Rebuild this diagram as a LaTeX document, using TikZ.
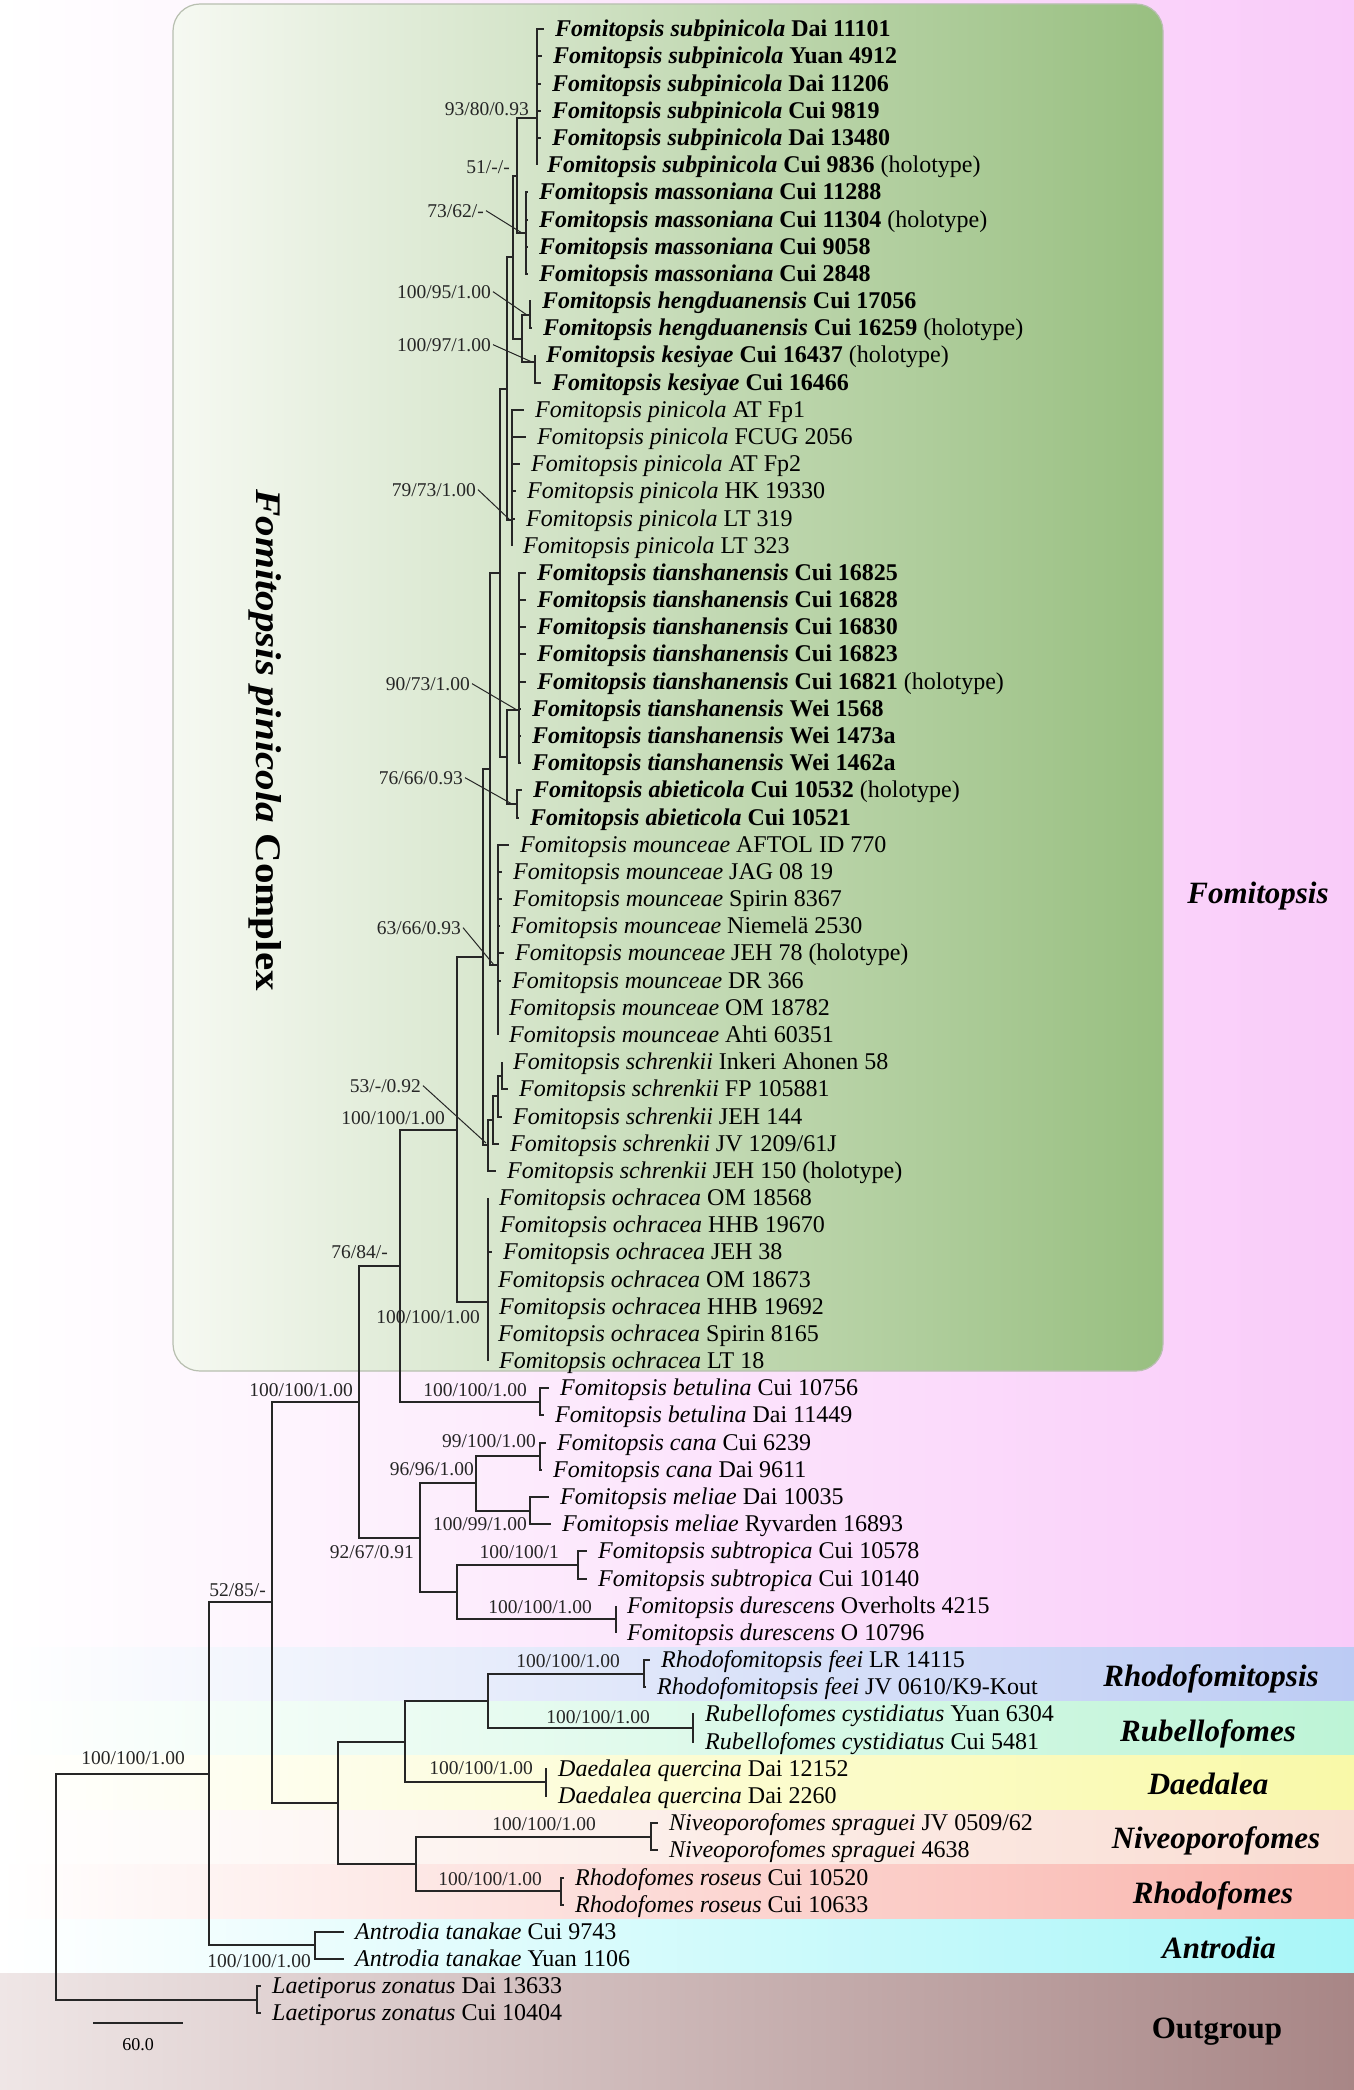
\documentclass[tikz,border=0pt]{standalone}
\usepackage{fontspec}
\setmainfont{Liberation Serif}
\usepackage{graphicx}
\definecolor{bPink}{HTML}{F9CBF9}
\definecolor{bBlue}{HTML}{BCCBF4}
\definecolor{bGreen}{HTML}{BDF4D6}
\definecolor{bYellow}{HTML}{F9F9A8}
\definecolor{bPeach}{HTML}{F9DDD3}
\definecolor{bRed}{HTML}{F9B3AB}
\definecolor{bCyan}{HTML}{A8F6F8}
\definecolor{bBrownL}{HTML}{EFE6E6}
\definecolor{bBrown}{HTML}{A88686}
\definecolor{gL}{HTML}{F6F9F2}
\definecolor{gM}{HTML}{D6E6CA}
\definecolor{gR}{HTML}{98BF80}
\definecolor{gB}{HTML}{B8BFB0}
\definecolor{treeC}{HTML}{262626}
\newcommand\bsp[2]{\textbf{\textit{#1} #2}}
\newcommand\rsp[2]{\textit{#1} #2}
\tikzset{
  branch/.style={line width=2pt, draw=treeC},
  leaderline/.style={line width=1pt, draw=treeC},
  tipnode/.style={anchor=base west, inner sep=0pt, text=black, font=\fontsize{24}{28}\selectfont},
  suplabel/.style={anchor=base east, inner sep=0pt, text=black!85, font=\fontsize{19.5}{22}\selectfont},
  genus/.style={anchor=base, inner sep=0pt, text=black, font=\fontsize{31}{36}\selectfont\bfseries\itshape},
}
\newcommand\tipleaf[5]{%
  \pgfmathsetmacro\tipY{29.3+27.18*(#1-1)}%
  \pgfmathsetmacro\tipE{max(#4-11,#3)}%
  \coordinate (e#1) at (\tipE,\tipY);%
  \node[tipnode] (t#1) at (#4,\tipY+7.5) {#5};%
  \draw[branch] (#2) |- (e#1);%
}
\begin{document}
\begin{tikzpicture}[x=1pt,y=-1pt]
\useasboundingbox (0,0) rectangle (1354,2090);
% background bands
\shade[left color=white, right color=bPink] (0,0) rectangle (1354,1647);
\shade[left color=white, right color=bBlue] (0,1647) rectangle (1354,1701);
\shade[left color=white, right color=bGreen] (0,1701) rectangle (1354,1755);
\shade[left color=white, right color=bYellow] (0,1755) rectangle (1354,1810);
\shade[left color=white, right color=bPeach] (0,1810) rectangle (1354,1864);
\shade[left color=white, right color=bRed] (0,1864) rectangle (1354,1919);
\shade[left color=white, right color=bCyan] (0,1919) rectangle (1354,1973);
\shade[left color=bBrownL, right color=bBrown] (0,1973) rectangle (1354,2090);
% complex box
\shade[rounded corners=27pt, left color=gL, middle color=gM, right color=gR] (173,4) rectangle (1163,1371);
\draw[rounded corners=27pt, draw=gB, line width=1.2pt] (173,4) rectangle (1163,1371);
\node[rotate=-90, inner sep=0pt] (title) at (265,740)
  {\scalebox{1.14}[1]{\fontsize{36}{40}\selectfont\bfseries\itshape Fomitopsis pinicola \upshape Complex}};
% genus labels
\node[genus] (gFom) at (1258,903.5) {Fomitopsis};
\node[genus] (gRfm) at (1211,1686.5) {Rhodofomitopsis};
\node[genus] (gRub) at (1208,1741.5) {Rubellofomes};
\node[genus] (gDae) at (1208,1794.5) {Daedalea};
\node[genus] (gNiv) at (1216,1848.5) {Niveoporofomes};
\node[genus] (gRho) at (1213,1903.5) {Rhodofomes};
\node[genus] (gAnt) at (1219,1958.5) {Antrodia};
\node[genus, font=\fontsize{31}{36}\selectfont\bfseries] (gOut) at (1217,2038.5) {Outgroup};
% clade coordinates
\coordinate (Sub) at (537,118);
\coordinate (Mass) at (526,233);
\coordinate (B) at (517,175.5);
\coordinate (Heng) at (530,315);
\coordinate (Kes) at (535,362);
\coordinate (HK) at (522,338.5);
\coordinate (A) at (513,257);
\coordinate (Pin) at (512,520);
\coordinate (C) at (507,388.5);
\coordinate (Tian) at (519,710);
\coordinate (Abi) at (517,804);
\coordinate (E) at (507,757);
\coordinate (D) at (500,572.7);
\coordinate (Mou) at (498,965);
\coordinate (F) at (490,768.9);
\coordinate (s1) at (502,1075.7);
\coordinate (s2) at (498,1096);
\coordinate (s3) at (493,1119.8);
\coordinate (s4) at (488,1145.3);
\coordinate (G) at (483,957);
\coordinate (Och) at (488,1302);
\coordinate (Cx) at (457,1129.5);
\coordinate (Bet) at (540,1401.8);
\coordinate (H84) at (400,1265.7);
\coordinate (Cana) at (540,1456.2);
\coordinate (Mel) at (530,1510.5);
\coordinate (N96) at (476,1483.3);
\coordinate (Subt) at (578,1564.9);
\coordinate (Dur) at (616,1619.2);
\coordinate (SD) at (457,1592);
\coordinate (N92) at (420,1537.7);
\coordinate (Fom) at (359,1401.7);
\coordinate (Rfm) at (644,1673.6);
\coordinate (Rub) at (693,1728);
\coordinate (J) at (488,1700.8);
\coordinate (Dae) at (546,1782.3);
\coordinate (I) at (404.5,1741.5);
\coordinate (Niv) at (651,1836.7);
\coordinate (Rho) at (561,1891);
\coordinate (K) at (416,1863.8);
\coordinate (H) at (337.5,1802.7);
\coordinate (N52) at (272,1602.2);
\coordinate (Ant) at (314.5,1945.4);
\coordinate (Ing) at (209,1773.8);
\coordinate (Out) at (257,1999.7);
\coordinate (Root) at (56,1886.8);
% backbone
\draw[branch] (Sub) -| (B) |- (Mass);
\draw[branch] (Heng) -| (HK) |- (Kes);
\draw[branch] (B) -| (A) |- (HK);
\draw[branch] (A) -| (C) |- (Pin);
\draw[branch] (Tian) -| (E) |- (Abi);
\draw[branch] (C) -| (D) |- (E);
\draw[branch] (D) -| (F) |- (Mou);
\draw[branch] (s1) -| (s2);
\draw[branch] (s2) -| (s3);
\draw[branch] (s3) -| (s4);
\draw[branch] (F) -| (G) |- (s4);
\draw[branch] (G) -| (Cx) |- (Och);
\draw[branch] (Cx) -| (H84) |- (Bet);
\draw[branch] (Cana) -| (N96) |- (Mel);
\draw[branch] (Subt) -| (SD) |- (Dur);
\draw[branch] (N96) -| (N92) |- (SD);
\draw[branch] (H84) -| (Fom) |- (N92);
\draw[branch] (Rfm) -| (J) |- (Rub);
\draw[branch] (J) -| (I) |- (Dae);
\draw[branch] (Niv) -| (K) |- (Rho);
\draw[branch] (I) -| (H) |- (K);
\draw[branch] (Fom) -| (N52) |- (H);
\draw[branch] (N52) -| (Ing) |- (Ant);
\draw[branch] (Ing) -| (Root) |- (Out);
% tips
\tipleaf{1}{Sub}{537}{555}{\bsp{Fomitopsis subpinicola}{Dai 11101}}
\tipleaf{2}{Sub}{537}{553}{\bsp{Fomitopsis subpinicola}{Yuan 4912}}
\tipleaf{3}{Sub}{537}{552}{\bsp{Fomitopsis subpinicola}{Dai 11206}}
\tipleaf{4}{Sub}{537}{552}{\bsp{Fomitopsis subpinicola}{Cui 9819}}
\tipleaf{5}{Sub}{537}{552}{\bsp{Fomitopsis subpinicola}{Dai 13480}}
\tipleaf{6}{Sub}{537}{547}{\bsp{Fomitopsis subpinicola}{Cui 9836} (holotype)}
\tipleaf{7}{Mass}{526}{539}{\bsp{Fomitopsis massoniana}{Cui 11288}}
\tipleaf{8}{Mass}{526}{539}{\bsp{Fomitopsis massoniana}{Cui 11304} (holotype)}
\tipleaf{9}{Mass}{526}{539}{\bsp{Fomitopsis massoniana}{Cui 9058}}
\tipleaf{10}{Mass}{526}{539}{\bsp{Fomitopsis massoniana}{Cui 2848}}
\tipleaf{11}{Heng}{530}{542}{\bsp{Fomitopsis hengduanensis}{Cui 17056}}
\tipleaf{12}{Heng}{530}{543}{\bsp{Fomitopsis hengduanensis}{Cui 16259} (holotype)}
\tipleaf{13}{Kes}{535}{546}{\bsp{Fomitopsis kesiyae}{Cui 16437} (holotype)}
\tipleaf{14}{Kes}{535}{552}{\bsp{Fomitopsis kesiyae}{Cui 16466}}
\tipleaf{15}{Pin}{512}{535}{\rsp{Fomitopsis pinicola}{AT Fp1}}
\tipleaf{16}{Pin}{512}{537}{\rsp{Fomitopsis pinicola}{FCUG 2056}}
\tipleaf{17}{Pin}{512}{531}{\rsp{Fomitopsis pinicola}{AT Fp2}}
\tipleaf{18}{Pin}{512}{527}{\rsp{Fomitopsis pinicola}{HK 19330}}
\tipleaf{19}{Pin}{512}{526}{\rsp{Fomitopsis pinicola}{LT 319}}
\tipleaf{20}{Pin}{512}{523}{\rsp{Fomitopsis pinicola}{LT 323}}
\tipleaf{21}{Tian}{519}{537}{\bsp{Fomitopsis tianshanensis}{Cui 16825}}
\tipleaf{22}{Tian}{519}{537}{\bsp{Fomitopsis tianshanensis}{Cui 16828}}
\tipleaf{23}{Tian}{519}{537}{\bsp{Fomitopsis tianshanensis}{Cui 16830}}
\tipleaf{24}{Tian}{519}{537}{\bsp{Fomitopsis tianshanensis}{Cui 16823}}
\tipleaf{25}{Tian}{519}{537}{\bsp{Fomitopsis tianshanensis}{Cui 16821} (holotype)}
\tipleaf{26}{Tian}{519}{532}{\bsp{Fomitopsis tianshanensis}{Wei 1568}}
\tipleaf{27}{Tian}{519}{532}{\bsp{Fomitopsis tianshanensis}{Wei 1473a}}
\tipleaf{28}{Tian}{519}{532}{\bsp{Fomitopsis tianshanensis}{Wei 1462a}}
\tipleaf{29}{Abi}{517}{533}{\bsp{Fomitopsis abieticola}{Cui 10532} (holotype)}
\tipleaf{30}{Abi}{517}{530}{\bsp{Fomitopsis abieticola}{Cui 10521}}
\tipleaf{31}{Mou}{498}{520}{\rsp{Fomitopsis mounceae}{AFTOL ID 770}}
\tipleaf{32}{Mou}{498}{513}{\rsp{Fomitopsis mounceae}{JAG 08 19}}
\tipleaf{33}{Mou}{498}{513}{\rsp{Fomitopsis mounceae}{Spirin 8367}}
\tipleaf{34}{Mou}{498}{511}{\rsp{Fomitopsis mounceae}{Niemelä 2530}}
\tipleaf{35}{Mou}{498}{515}{\rsp{Fomitopsis mounceae}{JEH 78 (holotype)}}
\tipleaf{36}{Mou}{498}{512}{\rsp{Fomitopsis mounceae}{DR 366}}
\tipleaf{37}{Mou}{498}{509}{\rsp{Fomitopsis mounceae}{OM 18782}}
\tipleaf{38}{Mou}{498}{509}{\rsp{Fomitopsis mounceae}{Ahti 60351}}
\tipleaf{39}{s1}{502}{513}{\rsp{Fomitopsis schrenkii}{Inkeri Ahonen 58}}
\tipleaf{40}{s1}{502}{519}{\rsp{Fomitopsis schrenkii}{FP 105881}}
\tipleaf{41}{s2}{498}{513}{\rsp{Fomitopsis schrenkii}{JEH 144}}
\tipleaf{42}{s3}{493}{510}{\rsp{Fomitopsis schrenkii}{JV 1209/61J}}
\tipleaf{43}{s4}{488}{507}{\rsp{Fomitopsis schrenkii}{JEH 150 (holotype)}}
\tipleaf{44}{Och}{488}{499}{\rsp{Fomitopsis ochracea}{OM 18568}}
\tipleaf{45}{Och}{488}{500}{\rsp{Fomitopsis ochracea}{HHB 19670}}
\tipleaf{46}{Och}{488}{503}{\rsp{Fomitopsis ochracea}{JEH 38}}
\tipleaf{47}{Och}{488}{498}{\rsp{Fomitopsis ochracea}{OM 18673}}
\tipleaf{48}{Och}{488}{499}{\rsp{Fomitopsis ochracea}{HHB 19692}}
\tipleaf{49}{Och}{488}{498}{\rsp{Fomitopsis ochracea}{Spirin 8165}}
\tipleaf{50}{Och}{488}{499}{\rsp{Fomitopsis ochracea}{LT 18}}
\tipleaf{51}{Bet}{540}{560}{\rsp{Fomitopsis betulina}{Cui 10756}}
\tipleaf{52}{Bet}{540}{555}{\rsp{Fomitopsis betulina}{Dai 11449}}
\tipleaf{53}{Cana}{540}{557}{\rsp{Fomitopsis cana}{Cui 6239}}
\tipleaf{54}{Cana}{540}{553}{\rsp{Fomitopsis cana}{Dai 9611}}
\tipleaf{55}{Mel}{530}{560}{\rsp{Fomitopsis meliae}{Dai 10035}}
\tipleaf{56}{Mel}{530}{562}{\rsp{Fomitopsis meliae}{Ryvarden 16893}}
\tipleaf{57}{Subt}{578}{598}{\rsp{Fomitopsis subtropica}{Cui 10578}}
\tipleaf{58}{Subt}{578}{598}{\rsp{Fomitopsis subtropica}{Cui 10140}}
\tipleaf{59}{Dur}{616}{627}{\rsp{Fomitopsis durescens}{Overholts 4215}}
\tipleaf{60}{Dur}{616}{627}{\rsp{Fomitopsis durescens}{O 10796}}
\tipleaf{61}{Rfm}{644}{661}{\rsp{Rhodofomitopsis feei}{LR 14115}}
\tipleaf{62}{Rfm}{644}{657}{\rsp{Rhodofomitopsis feei}{JV 0610/K9-Kout}}
\tipleaf{63}{Rub}{693}{705}{\rsp{Rubellofomes cystidiatus}{Yuan 6304}}
\tipleaf{64}{Rub}{693}{705}{\rsp{Rubellofomes cystidiatus}{Cui 5481}}
\tipleaf{65}{Dae}{546}{558}{\rsp{Daedalea quercina}{Dai 12152}}
\tipleaf{66}{Dae}{546}{558}{\rsp{Daedalea quercina}{Dai 2260}}
\tipleaf{67}{Niv}{651}{669}{\rsp{Niveoporofomes spraguei}{JV 0509/62}}
\tipleaf{68}{Niv}{651}{669}{\rsp{Niveoporofomes spraguei}{4638}}
\tipleaf{69}{Rho}{561}{575}{\rsp{Rhodofomes roseus}{Cui 10520}}
\tipleaf{70}{Rho}{561}{575}{\rsp{Rhodofomes roseus}{Cui 10633}}
\tipleaf{71}{Ant}{314.5}{355}{\rsp{Antrodia tanakae}{Cui 9743}}
\tipleaf{72}{Ant}{314.5}{355}{\rsp{Antrodia tanakae}{Yuan 1106}}
\tipleaf{73}{Out}{257}{272}{\rsp{Laetiporus zonatus}{Dai 13633}}
\tipleaf{74}{Out}{257}{272}{\rsp{Laetiporus zonatus}{Cui 10404}}
% support labels
\node[suplabel] (L93) at (529,116) {93/80/0.93};
\node[suplabel] (L51) at (510,173) {51/-/-};
\node[suplabel] (L73) at (484,217) {73/62/-};
\node[suplabel] (L95) at (491,298) {100/95/1.00};
\node[suplabel] (L97) at (491,351) {100/97/1.00};
\node[suplabel] (L79) at (476,496) {79/73/1.00};
\node[suplabel] (L90) at (470,690) {90/73/1.00};
\node[suplabel] (L76) at (463,784) {76/66/0.93};
\node[suplabel] (L63) at (461,934) {63/66/0.93};
\node[suplabel] (L53) at (421,1092) {53/-/0.92};
\node[suplabel] (Lcx) at (445,1124) {100/100/1.00};
\node[suplabel] (L84) at (388,1258) {76/84/-};
\node[suplabel] (Loch) at (480,1323) {100/100/1.00};
\node[suplabel] (Lfom) at (353,1396) {100/100/1.00};
\node[suplabel] (Lbet) at (527,1396) {100/100/1.00};
\node[suplabel] (Lcana) at (536,1447.5) {99/100/1.00};
\node[suplabel] (L96) at (474,1475) {96/96/1.00};
\node[suplabel] (Lmel) at (527,1530) {100/99/1.00};
\node[suplabel] (L92) at (414,1558.5) {92/67/0.91};
\node[suplabel] (Lsubt) at (559,1558) {100/100/1};
\node[suplabel] (Ldur) at (592,1613) {100/100/1.00};
\node[suplabel] (L52) at (266,1596) {52/85/-};
\node[suplabel] (Lroot) at (185,1764) {100/100/1.00};
\node[suplabel] (Lrfm) at (620,1667) {100/100/1.00};
\node[suplabel] (Lrub) at (650,1723.5) {100/100/1.00};
\node[suplabel] (Ldae) at (533,1774.5) {100/100/1.00};
\node[suplabel] (Lniv) at (596,1830) {100/100/1.00};
\node[suplabel] (Lrho) at (542,1885) {100/100/1.00};
\node[suplabel] (Lant) at (311,1967.5) {100/100/1.00};
% leader lines
\coordinate (k73) at (522,233);
\coordinate (k95) at (527,315);
\coordinate (k97) at (532,362);
\coordinate (k79) at (510,520);
\coordinate (k90) at (517,710);
\coordinate (k76) at (512,804);
\coordinate (k63) at (494,965);
\coordinate (k53) at (486,1143);
\draw[leaderline] ([xshift=2pt]L73.east) -- (k73);
\draw[leaderline] ([xshift=2pt]L95.east) -- (k95);
\draw[leaderline] ([xshift=2pt]L97.east) -- (k97);
\draw[leaderline] ([xshift=2pt]L79.east) -- (k79);
\draw[leaderline] ([xshift=2pt]L90.east) -- (k90);
\draw[leaderline] ([xshift=2pt]L76.east) -- (k76);
\draw[leaderline] ([xshift=2pt]L63.east) -- (k63);
\draw[leaderline] ([xshift=2pt]L53.east) -- (k53);
% scale bar
\coordinate (sb1) at (93,2023);
\coordinate (sb2) at (183,2023);
\draw[line width=2.5pt, draw=treeC] (sb1) -- (sb2);
\node[inner sep=0pt, font=\fontsize{18}{20}\selectfont, anchor=base] (sbl) at (138,2050) {60.0};
\end{tikzpicture}
\end{document}
